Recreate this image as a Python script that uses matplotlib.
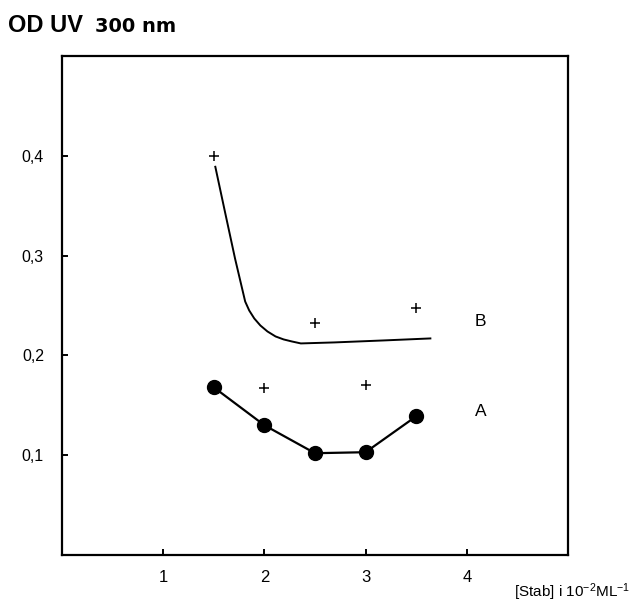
import matplotlib
matplotlib.use("Agg")
import matplotlib.pyplot as plt
from matplotlib.ticker import FuncFormatter

plt.rcParams['font.family'] = ['Liberation Sans', 'DejaVu Sans']
plt.rcParams['mathtext.default'] = 'regular'

# Series A (filled circles, joined)
a_x = [1.5, 2.0, 2.5, 3.0, 3.5]
a_y = [0.168, 0.130, 0.102, 0.103, 0.139]

# Series B crosses
b_x = [1.5, 2.5, 3.5]
b_y = [0.400, 0.232, 0.247]

# Additional crosses near curve A
c_x = [2.0, 3.0]
c_y = [0.167, 0.170]

# Hand-drawn curve for B
bc_x = [1.515, 1.61, 1.71, 1.81, 1.85, 1.90, 1.96, 2.03, 2.11, 2.19, 2.27, 2.36, 2.69, 3.18, 3.64]
bc_y = [0.389, 0.344, 0.297, 0.254, 0.245, 0.237, 0.230, 0.224, 0.219, 0.216, 0.214, 0.212, 0.213, 0.215, 0.217]

x_ticks = [1, 2, 3, 4]
y_ticks = [0.1, 0.2, 0.3, 0.4]

fig = plt.figure(figsize=(6.44, 6.02), dpi=100)
ax = fig.add_axes([62/644, 1 - 555/602, (568-62)/644, (555-56)/602])

ax.plot(bc_x, bc_y, color='black', lw=1.4)
ax.plot(a_x, a_y, color='black', lw=1.6, marker='o', ms=10, mfc='black', mec='black')
ax.plot(b_x, b_y, ls='none', marker='+', ms=7, mew=1.1, color='black')
ax.plot(c_x, c_y, ls='none', marker='+', ms=7, mew=1.1, color='black')

ax.text(4.08, 0.234, 'B', fontsize=12.5, va='center', ha='left')
ax.text(4.08, 0.144, 'A', fontsize=12.5, va='center', ha='left')

ax.set_xlim(0, 5)
ax.set_ylim(0, 0.5)
ax.set_xticks(x_ticks)
ax.set_yticks(y_ticks)
ax.xaxis.set_major_formatter(FuncFormatter(lambda v, p: f"{v:g}"))
ax.yaxis.set_major_formatter(FuncFormatter(lambda v, p: f"{v:.1f}".replace('.', ',')))
ax.tick_params(axis='both', direction='in', length=4, width=1.4)
ax.tick_params(axis='x', labelsize=12, pad=11)
ax.tick_params(axis='y', labelsize=11.5, pad=13)
for s in ax.spines.values():
    s.set_linewidth(1.6)

fig.text(8/644, 1 - 32/602, 'OD UV', fontsize=17, fontweight='bold',
         va='baseline', ha='left')
fig.text(95/644, 1 - 32/602, '300 nm', fontsize=14, fontweight='bold', family='DejaVu Sans',
         va='baseline', ha='left')
fig.text(514/644, 1 - 597/602, r'[Stab] i 10$^{-2}$ML$^{-1}$', fontsize=11, va='baseline', ha='left')

fig.savefig('out.png', dpi=100)
